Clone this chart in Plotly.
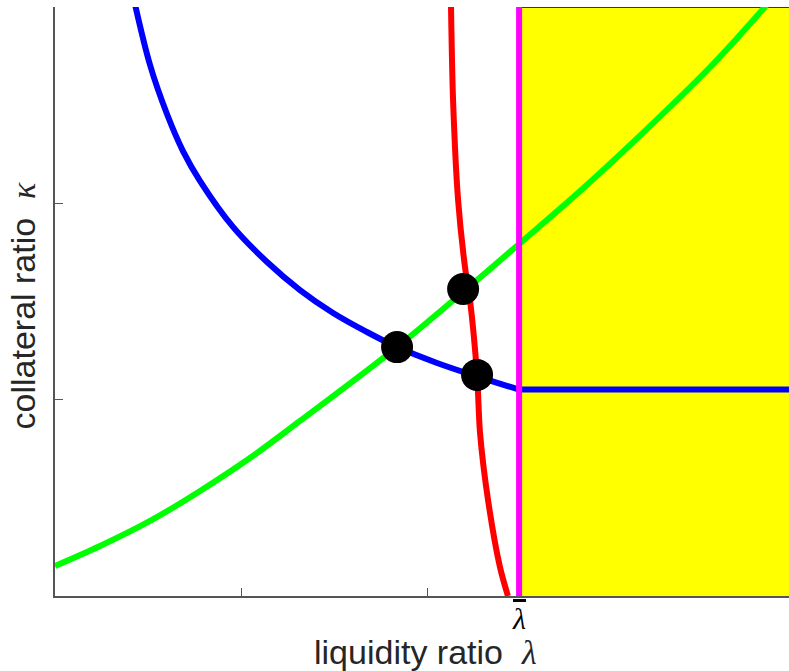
import plotly.graph_objects as go

# curve values (lambda on x, kappa on y)
lam_bar = 2.495
x_max = 3.946
y_max = 3.005

blue_x = [0.418, 0.511, 0.602, 0.688, 0.780, 0.957, 1.140, 1.317, 1.495, 1.677, 1.839, 2.054, 2.263, 2.495]
blue_y = [3.07, 2.709, 2.459, 2.270, 2.117, 1.883, 1.704, 1.561, 1.444, 1.347, 1.270, 1.189, 1.122, 1.053]
blue_flat = 1.053

green_x = [0.0, 0.242, 0.511, 0.780, 1.048, 1.317, 1.839, 2.194, 2.489, 2.823, 3.183, 3.538, 3.83]
green_y = [0.153, 0.255, 0.383, 0.536, 0.704, 0.893, 1.270, 1.551, 1.791, 2.066, 2.383, 2.714, 3.02]

red_x = [2.129, 2.140, 2.167, 2.204, 2.231, 2.269, 2.285, 2.328, 2.392, 2.435]
red_y = [3.005, 2.531, 2.020, 1.679, 1.510, 1.128, 0.832, 0.490, 0.148, 0.0]

dot_x = [1.839, 2.194, 2.269]
dot_y = [1.270, 1.566, 1.128]

x_ticks = [0, 1, 2]
y_ticks = [0, 1, 2, 3]

sans = "Liberation Sans, Arial, sans-serif"
txt = "#262626"
ax_col = "#555555"

fig = go.Figure()

# feasible region to the right of lambda bar
fig.add_trace(go.Scatter(x=[lam_bar, x_max, x_max, lam_bar], y=[0, 0, y_max, y_max],
                         fill="toself", fillcolor="#ffff00", mode="lines",
                         line=dict(width=0), hoverinfo="skip"))
fig.add_trace(go.Scatter(x=[lam_bar, x_max], y=[y_max, y_max], mode="lines",
                         line=dict(color="black", width=1.5), hoverinfo="skip"))

fig.add_trace(go.Scatter(x=green_x, y=green_y, mode="lines",
                         line=dict(color="#00ff00", width=6, shape="spline", smoothing=1.0)))
fig.add_trace(go.Scatter(x=blue_x, y=blue_y, mode="lines",
                         line=dict(color="#0000ff", width=6, shape="spline", smoothing=1.0)))
fig.add_trace(go.Scatter(x=[lam_bar, x_max], y=[blue_flat, blue_flat], mode="lines",
                         line=dict(color="#0000ff", width=6)))
fig.add_trace(go.Scatter(x=[lam_bar, lam_bar], y=[0, y_max], mode="lines",
                         line=dict(color="#ff00ff", width=6)))
fig.add_trace(go.Scatter(x=red_x, y=red_y, mode="lines",
                         line=dict(color="#ff0000", width=6, shape="spline", smoothing=0.8)))
fig.add_trace(go.Scatter(x=dot_x, y=dot_y, mode="markers",
                         marker=dict(color="black", size=32, line=dict(width=0))))

fig.update_xaxes(range=[0, x_max], showgrid=False, zeroline=False,
                 showline=True, linecolor=ax_col, linewidth=1.5,
                 ticks="inside", ticklen=8, tickcolor=ax_col, tickwidth=1,
                 tickvals=x_ticks, showticklabels=False)
fig.update_yaxes(range=[0, y_max], showgrid=False, zeroline=False,
                 showline=True, linecolor=ax_col, linewidth=1.5,
                 ticks="inside", ticklen=8, tickcolor=ax_col, tickwidth=1,
                 tickvals=y_ticks, showticklabels=False)

serif = "font-family:Liberation Serif"
# lambda bar label under the axis
fig.add_annotation(x=lam_bar, xref="x", y=-0.007, yref="paper", yanchor="top",
                   text="<span style='%s;text-decoration:overline'><i>λ</i></span>" % serif,
                   showarrow=False, font=dict(size=30, color="black"))
fig.add_annotation(x=0.5054, xref="paper", y=-0.095, yref="paper", yanchor="middle",
                   text="liquidity ratio  <span style='%s'><i>λ</i></span>" % serif,
                   showarrow=False, font=dict(size=34, color=txt, family=sans))
fig.add_annotation(x=-0.043, xref="paper", y=0.494, yref="paper", xanchor="center",
                   text="collateral ratio  <span style='%s'><i>κ</i></span>" % serif,
                   textangle=-90, showarrow=False, font=dict(size=34, color=txt, family=sans))

fig.update_layout(width=789, height=671, showlegend=False,
                  margin=dict(l=55, r=0, t=7, b=75),
                  plot_bgcolor="white", paper_bgcolor="white")

fig.write_html("out.html", config={"displayModeBar": False},
               post_script="document.body.style.margin='0';")
